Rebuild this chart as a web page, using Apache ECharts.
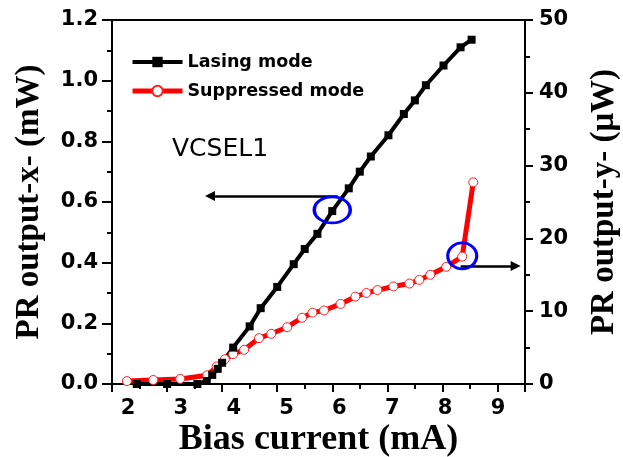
<!DOCTYPE html>
<html><head><meta charset="utf-8">
<script src="https://cdn.jsdelivr.net/npm/echarts@6/dist/echarts.min.js"></script>
<style>html,body{margin:0;padding:0;background:#fff}#c{width:623px;height:457px}</style>
</head><body><div id="c"></div>
<script>
// Lasing mode (left axis, mW)
const lasingX = [2.45, 3.0, 3.55, 3.72, 3.82, 3.92, 4.0, 4.2, 4.5, 4.7, 5.0, 5.3, 5.5, 5.73, 6.0, 6.3, 6.5, 6.7, 7.02, 7.3, 7.5, 7.7, 8.02, 8.33, 8.53];
const lasingY = [0, 0, 0, 0.01, 0.03, 0.05, 0.07, 0.12, 0.19, 0.25, 0.32, 0.395, 0.445, 0.495, 0.57, 0.645, 0.70, 0.75, 0.82, 0.89, 0.935, 0.985, 1.05, 1.11, 1.135];
// Suppressed mode (right axis, uW)
const suppX = [2.27, 2.75, 3.24, 3.73, 3.9, 4.05, 4.2, 4.4, 4.67, 4.89, 5.18, 5.45, 5.64, 5.85, 6.15, 6.42, 6.62, 6.82, 7.11, 7.4, 7.58, 7.78, 8.07, 8.36, 8.56];
const suppY = [0.4, 0.55, 0.7, 1.2, 2.4, 3.4, 4.1, 4.7, 6.3, 6.9, 7.8, 9.1, 9.8, 10.1, 11.0, 12.0, 12.5, 12.9, 13.4, 13.8, 14.3, 15.0, 16.1, 17.5, 27.7];
// tick labels
const xTickLabels = [2, 3, 4, 5, 6, 7, 8, 9];
// annotations (data coordinates)
const leftArrow = [[6.1, 0.62], [3.78, 0.62]];
const rightArrow = [[8.33, 16.2], [9.33, 16.2]];
const ring1 = [6.0, 0.574];
const ring2 = [8.36, 17.6];

const chart = echarts.init(document.getElementById('c'), null, {renderer: 'canvas'});
const tickFont = {fontFamily: 'DejaVu Sans', fontWeight: 'bold', fontSize: 21, color: '#000'};
const titleFont = {fontFamily: 'Liberation Serif', fontWeight: 'bold', fontSize: 33, color: '#000'};
const axisLine = {show: true, lineStyle: {color: '#000', width: 2}};

chart.setOption({
  animation: false,
  backgroundColor: '#fff',
  grid: {left: 112, right: 98, top: 20, bottom: 73, show: true, borderColor: '#000', borderWidth: 2,
    backgroundColor: 'transparent', containLabel: false, outerBoundsMode: 'none'},
  legend: {
    orient: 'vertical', left: 125, top: 48, itemWidth: 50, itemHeight: 13, itemGap: 11,
    textStyle: {fontFamily: 'DejaVu Sans', fontWeight: 'bold', fontSize: 17.5, color: '#000'},
    data: [
      {name: 'Lasing mode', lineStyle: {width: 4}},
      {name: 'Suppressed mode', lineStyle: {width: 5}}
    ]
  },
  graphic: [{type: 'text', left: 172, top: 137, style: {text: 'VCSEL1', font: '25px "DejaVu Sans"', fill: '#000'}}],
  xAxis: [{
    type: 'value', min: 2, max: 9.5, interval: 1, position: 'bottom',
    name: 'Bias current (mA)', nameLocation: 'middle', nameGap: 38,
    nameTextStyle: Object.assign({}, titleFont, {fontSize: 36}),
    axisLine: axisLine, axisTick: {show: true, length: 8, lineStyle: {color: '#000', width: 2}},
    minorTick: {show: true, splitNumber: 2, length: 5, lineStyle: {color: '#000', width: 2}},
    axisLabel: {show: false}, splitLine: {show: false}
  }, {
    type: 'value', min: 1.697, max: 9.511, position: 'bottom',
    axisLine: {show: false}, axisTick: {show: false}, splitLine: {show: false},
    axisLabel: Object.assign({margin: 14, customValues: xTickLabels}, tickFont)
  }],
  yAxis: [{
    type: 'value', min: 0, max: 1.2, interval: 0.2, position: 'left',
    name: 'PR output-x- (mW)', nameLocation: 'middle', nameGap: 66, nameRotate: 90, nameTextStyle: titleFont,
    axisLine: axisLine, axisTick: {show: true, length: 10, lineStyle: {color: '#000', width: 2}},
    minorTick: {show: true, splitNumber: 2, length: 5, lineStyle: {color: '#000', width: 2}},
    axisLabel: Object.assign({margin: 14, formatter: v => v.toFixed(1)}, tickFont), splitLine: {show: false}
  }, {
    type: 'value', min: 0, max: 50, interval: 10, position: 'right',
    name: 'PR output-y- (\u03bcW)', nameLocation: 'middle', nameGap: 63, nameRotate: 90, nameTextStyle: titleFont,
    axisLine: axisLine, axisTick: {show: true, length: 8, lineStyle: {color: '#000', width: 2}},
    minorTick: {show: true, splitNumber: 2, length: 5, lineStyle: {color: '#000', width: 2}},
    axisLabel: Object.assign({margin: 14}, tickFont), splitLine: {show: false}
  }],
  series: [{
    name: 'Suppressed mode', type: 'line', xAxisIndex: 0, yAxisIndex: 1,
    data: suppX.map((x, i) => [x, suppY[i]]),
    symbol: 'circle', symbolSize: 9,
    lineStyle: {color: '#ff0000', width: 5},
    itemStyle: {color: '#ffffff', borderColor: '#ff2020', borderWidth: 1},
    markPoint: {silent: true, symbol: 'circle', symbolSize: [29, 26], label: {show: false},
      itemStyle: {color: 'rgba(0,0,0,0)', borderColor: '#0000ff', borderWidth: 3},
      data: [{coord: ring2}]},
    markLine: {silent: true, symbol: ['none', 'triangle'], symbolSize: 10, label: {show: false},
      lineStyle: {color: '#000', width: 2.5, type: 'solid'},
      data: [[{coord: rightArrow[0]}, {coord: rightArrow[1]}]]}
  }, {
    name: 'Lasing mode', type: 'line', xAxisIndex: 0, yAxisIndex: 0,
    data: lasingX.map((x, i) => [x, lasingY[i]]),
    symbol: 'rect', symbolSize: 8,
    lineStyle: {color: '#000', width: 4},
    itemStyle: {color: '#000'},
    markPoint: {silent: true, symbol: 'circle', symbolSize: [36, 26], label: {show: false},
      itemStyle: {color: 'rgba(0,0,0,0)', borderColor: '#0000ff', borderWidth: 3},
      data: [{coord: ring1}]},
    markLine: {silent: true, symbol: ['none', 'triangle'], symbolSize: 10, label: {show: false},
      lineStyle: {color: '#000', width: 2.5, type: 'solid'},
      data: [[{coord: leftArrow[0]}, {coord: leftArrow[1]}]]}
  }]
});
</script></body></html>
